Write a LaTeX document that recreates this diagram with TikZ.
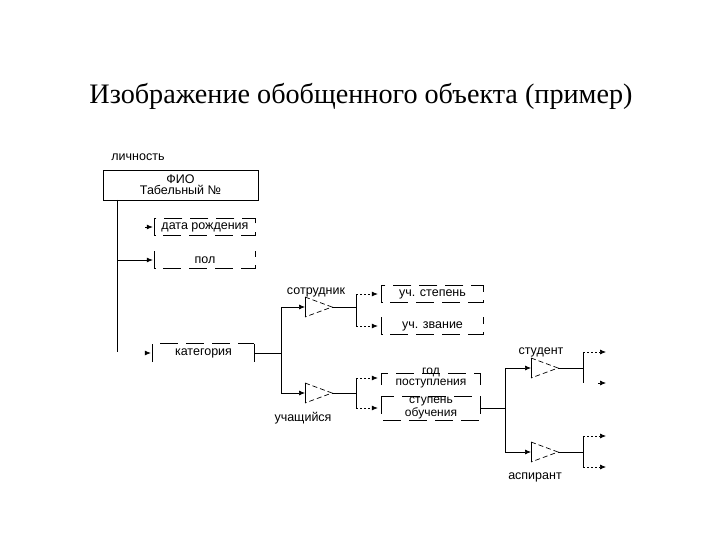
\documentclass[tikz,border=0pt]{standalone}
\usepackage{fontspec}
\setmainfont{Liberation Serif}
\newfontfamily\labfont{Liberation Sans}
\usetikzlibrary{arrows.meta}
\begin{document}
\begin{tikzpicture}[x=1pt,y=-1pt,
  lbl/.style={font=\labfont\fontsize{12.5}{11}\selectfont, inner sep=0pt},
  box/.style={lbl, align=center, minimum width=100pt, minimum height=17pt},
  ln/.style={line width=0.8pt},
  dbar/.style={line width=0.8pt, dash pattern=on 18pt off 8pt},
  tridash/.style={line width=0.7pt, dash pattern=on 5pt off 3pt},
  arr/.style={line width=0.7pt, -{Latex[length=6pt,width=5pt]}},
  dotarr/.style={arr, dash pattern=on 2pt off 2pt}
]
\useasboundingbox (0,0) rectangle (720,540);
\fill[white] (0,0) rectangle (720,540);

% title
\node[font=\fontsize{28.2}{28}\selectfont, inner sep=0pt] (title) at (361,96) {Изображение обобщенного объекта (пример)};

% labels
\node[lbl] (lich) at (138,157) {личность};
\node[lbl] (sotr) at (316,292) {сотрудник};
\node[lbl] (uch) at (303,418) {учащийся};
\node[lbl] (stud) at (541,352) {студент};
\node[lbl] (asp) at (535,477) {аспирант};

% boxes
\node[box, draw, ln, minimum width=155pt, minimum height=30pt] (fio) at (180.5,185) {ФИО\\Табельный №};
\node[box] (dr) at (205,227) {дата рождения};
\draw[dbar] (dr.north west) rectangle (dr.south east);
\node[box] (pol) at (205,260) {пол};
\draw[dbar] (pol.north west) -- (pol.south west) -- (pol.south east) -- (pol.north east);
\node[box, minimum width=101pt, minimum height=18pt] (kat) at (203.5,353) {категория};
\draw[dbar] (kat.south west) -- (kat.north west) -- (kat.north east);
\draw[ln] (kat.north east) -- (kat.south east);

\node[box, minimum width=101pt] (st) at (432.5,294) {уч. степень};
\draw[dbar] (st.north west) rectangle (st.south east);
\node[box, minimum width=101pt] (zv) at (432.5,326) {уч. звание};
\draw[dbar] (zv.north west) -- (zv.south west) -- (zv.south east) -- (zv.north east);
\node[box, font=\labfont\fontsize{12}{11}\selectfont, minimum width=98pt, minimum height=19pt] (god) at (431,378) {год\\поступления};
\draw[dbar] ([yshift=3pt]god.south west) -- ([yshift=-6pt]god.north west) -- ([yshift=-6pt]god.north east) -- ([yshift=3pt]god.south east);
\node[box, font=\labfont\fontsize{12}{9.5}\selectfont, minimum width=98pt, minimum height=19pt] (stup) at (431,408) {ступень\\обучения};
\draw[dbar] ([yshift=1pt]stup.north west) rectangle ([yshift=-2pt]stup.south east);

% triangles
\coordinate (t1) at (305,307); \coordinate (t1a) at (332,307);
\coordinate (t2) at (305,393); \coordinate (t2a) at (332,393);
\coordinate (t3) at (531,368); \coordinate (t3a) at (558,368);
\coordinate (t4) at (531,452); \coordinate (t4a) at (558,452);
\foreach \t in {t1,t2,t3,t4}{
  \draw[tridash] ([yshift=10pt]\t) -- (\t a) -- ([yshift=-10pt]\t);
  \draw[ln] ([yshift=10pt]\t) -- ([yshift=-10pt]\t);
}

% left trunk
\coordinate (v0) at (117,200); \coordinate (v1) at (117,352);
\draw[ln] (v0) -- (v1);
\draw[arr] (v0 |- pol.west) -- ([xshift=-2pt]pol.west);
\coordinate (a1) at (145,227);
\draw[arr] (a1) -- ([xshift=-2pt]dr.west);
\coordinate (a2) at (145,353);
\draw[arr] (a2) -- ([xshift=-2pt]kat.west);

% from категория
\coordinate (j1) at (281,353); \coordinate (j1t) at (281,307); \coordinate (j1b) at (281,393);
\draw[ln] (kat.east) -- (j1);
\draw[ln] (j1t) -- (j1b);
\draw[arr] (j1t) -- (t1);
\draw[arr] (j1b) -- (t2);

% сотрудник
\coordinate (j2) at (356,307); \coordinate (j2t) at (356,294); \coordinate (j2b) at (356,326);
\draw[ln] (t1a) -- (j2);
\draw[ln] (j2t) -- (j2b);
\draw[dotarr] (j2t) -- ([xshift=-4pt]st.west);
\draw[dotarr] (j2b) -- ([xshift=-4pt]zv.west);

% учащийся
\coordinate (j3) at (356,393); \coordinate (j3t) at (356,378); \coordinate (j3b) at (356,408);
\draw[ln] (t2a) -- (j3);
\draw[ln] (j3t) -- (j3b);
\draw[dotarr] (j3t) -- ([xshift=-4pt]god.west);
\draw[dotarr] (j3b) -- ([xshift=-4pt]stup.west);

% from ступень обучения
\coordinate (j4) at (505,408); \coordinate (j4t) at (505,368); \coordinate (j4b) at (505,452);
\draw[ln] (stup.east) -- (j4);
\draw[ln] (j4t) -- (j4b);
\draw[arr] (j4t) -- (t3);
\draw[arr] (j4b) -- (t4);

% студент
\coordinate (j5) at (583,368); \coordinate (j5t) at (583,352); \coordinate (j5b) at (583,383);
\draw[ln] (t3a) -- (j5);
\draw[ln] (j5t) -- (j5b);
\coordinate (c1) at (606,352);
\draw[dotarr] (j5t) -- (c1);
\coordinate (c2a) at (598,383); \coordinate (c2) at (606,383);
\draw[arr] (c2a) -- (c2);

% аспирант
\coordinate (j6) at (583,452); \coordinate (j6t) at (583,436); \coordinate (j6b) at (583,467);
\draw[ln] (t4a) -- (j6);
\draw[ln] (j6t) -- (j6b);
\coordinate (c3) at (606,436); \coordinate (c4) at (606,467);
\draw[dotarr] (j6t) -- (c3);
\draw[dotarr] (j6b) -- (c4);
\end{tikzpicture}
\end{document}
